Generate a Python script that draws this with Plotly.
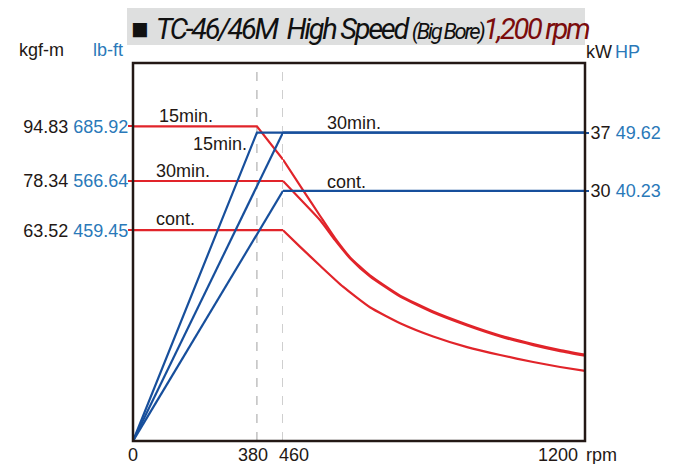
import plotly.graph_objects as go

# ---------------- data ----------------
SPLIT_RPM = 460          # axis scale changes here (two-segment rpm axis)
RPM_MAX = 1200

# torque (kgf-m) curves
t15_rpm = [0, 380, 460, 509, 551, 587, 624, 673, 747, 828, 911, 992, 1073, 1139, 1200]
t15_val = [94.83, 94.83, 84.8, 75.6, 67.8, 61.2, 55.4, 49.9, 43.8, 39.0, 35.1, 31.8, 29.2, 27.4, 26.0]
t30_rpm = [0, 460, 509, 551, 587, 624, 673, 747, 828, 911, 992, 1073, 1139, 1200]
t30_val = [78.34, 78.34, 72.0, 66.5, 60.6, 55.1, 49.6, 43.5, 38.7, 34.8, 31.5, 28.9, 27.1, 25.7]
tc_rpm = [0, 460, 502, 551, 607, 673, 747, 828, 911, 992, 1073, 1139, 1200]
tc_val = [63.52, 63.52, 58.5, 52.8, 46.5, 40.3, 35.5, 31.5, 28.3, 25.9, 23.8, 22.3, 21.1]

# power (kW) curves
p15_rpm = [0, 380, 1200]
p15_val = [0, 37, 37]
p30_rpm = [0, 460, 1200]
p30_val = [0, 37, 37]
pc_rpm = [0, 460, 1200]
pc_val = [0, 30, 30]

torque_kgfm = [94.83, 78.34, 63.52]
torque_lbft = ["685.92", "566.64", "459.45"]
power_kw = [37, 30]
power_hp = ["49.62", "40.23"]
x_ticks = [0, 380, 460, 1200]
dash_rpm = [380, 460]

# ---------------- style ----------------
RED = "#e1242a"
BLUE = "#174f9c"
TXT = "#231815"
TXTBLUE = "#2a79b9"
FONT = "Liberation Sans, Arial, sans-serif"

fig = go.Figure()


def add_split(rpm, val, color, yaxis, smooth_hi=False):
    """Draw a curve across the two rpm axis segments (x: 0-460, x2: 460-1200)."""
    lo = [(r, v) for r, v in zip(rpm, val) if r <= SPLIT_RPM]
    hi = [(r, v) for r, v in zip(rpm, val) if r >= SPLIT_RPM]
    if lo and lo[-1][0] < SPLIT_RPM and hi:
        r0, v0 = lo[-1]
        r1, v1 = hi[0]
        vb = v0 + (v1 - v0) * (SPLIT_RPM - r0) / (r1 - r0)
        lo.append((SPLIT_RPM, vb))
        hi.insert(0, (SPLIT_RPM, vb))
    for pts, xa, sm in ((lo, "x", False), (hi, "x2", smooth_hi)):
        if len(pts) < 2:
            continue
        line = dict(color=color, width=2.2)
        if sm:
            line.update(shape="spline", smoothing=0.5)
        fig.add_trace(go.Scatter(
            x=[p[0] for p in pts], y=[p[1] for p in pts],
            mode="lines", line=line,
            xaxis=xa, yaxis=yaxis, showlegend=False, hoverinfo="skip",
        ))


add_split(p15_rpm, p15_val, BLUE, "y2")
add_split(p30_rpm, p30_val, BLUE, "y2")
add_split(pc_rpm, pc_val, BLUE, "y2")
add_split(t15_rpm, t15_val, RED, "y", smooth_hi=True)
add_split(t30_rpm, t30_val, RED, "y", smooth_hi=True)
add_split(tc_rpm, tc_val, RED, "y", smooth_hi=True)

DOM_SPLIT = 150 / 452

shapes = []
for r in dash_rpm:
    shapes.append(dict(type="line", xref="x", yref="paper", x0=r, x1=r, y0=0, y1=1,
                       line=dict(color="#b0b0b0", width=1.2, dash="dash"), layer="below"))
# title box
shapes.append(dict(type="rect", xref="paper", yref="paper", x0=-0.0133, x1=1.0,
                   y0=1.0476, y1=1.1455, fillcolor="#dedfdf", line=dict(width=0), layer="below"))
# plot frame
shapes.append(dict(type="rect", xref="paper", yref="paper", x0=0, x1=1, y0=0, y1=1,
                   line=dict(color=TXT, width=2.5), layer="above"))

ann = []
# title
ann.append(dict(
    xref="paper", yref="paper", x=0.503, y=1.09, xanchor="center", yanchor="middle",
    showarrow=False,
    text=("<span style='font-style:normal'>■</span> <i><span style='letter-spacing:-2.3px'>TC-46/46M  High Speed "
          "<span style='font-size:22px'>(Big Bore)</span>"
          "<span style='color:#7b0c0c'>1,200 rpm</span></span></i>"),
    font=dict(family="Roboto, Liberation Sans", size=29, color="#111111"),
))
# axis unit labels
ann += [
    dict(xref="paper", yref="paper", x=-0.203, y=1.034, text="kgf-m", showarrow=False,
         xanchor="center", yanchor="middle", font=dict(family=FONT, size=18, color=TXT)),
    dict(xref="paper", yref="paper", x=-0.056, y=1.034, text="lb-ft", showarrow=False,
         xanchor="center", yanchor="middle", font=dict(family=FONT, size=18, color=TXTBLUE)),
    dict(xref="paper", yref="paper", x=1.0, y=1.029, text="kW", showarrow=False, xshift=-1,
         xanchor="left", yanchor="middle", font=dict(family=FONT, size=18, color=TXT)),
    dict(xref="paper", yref="paper", x=1.0, y=1.029, text="HP", showarrow=False, xshift=28,
         xanchor="left", yanchor="middle", font=dict(family=FONT, size=18, color=TXTBLUE)),
]
# x tick labels
xshift = {0: 0, 380: -4, 460: 11, 1200: -27}
for r in x_ticks:
    ann.append(dict(xref="x" if r <= SPLIT_RPM else "x2", yref="paper", x=r, y=0,
                    yshift=-14, xshift=xshift[r], text=str(r), showarrow=False,
                    xanchor="center", yanchor="middle",
                    font=dict(family=FONT, size=18, color=TXT)))
ann.append(dict(xref="paper", yref="paper", x=1.0, y=0, yshift=-14, xshift=-1, text="rpm",
                showarrow=False, xanchor="left", yanchor="middle",
                font=dict(family=FONT, size=18, color=TXT)))
# curve labels
lab_font = dict(family=FONT, size=18, color=TXT)
ann += [
    dict(xref="x", yref="y", x=74, y=t15_val[0], yshift=10, text="15min.", showarrow=False,
         xanchor="left", yanchor="middle", font=lab_font),
    dict(xref="x", yref="y", x=65, y=t30_val[0], yshift=10, text="30min.", showarrow=False,
         xanchor="left", yanchor="middle", font=lab_font),
    dict(xref="x", yref="y", x=65, y=tc_val[0], yshift=11, text="cont.", showarrow=False,
         xanchor="left", yanchor="middle", font=lab_font),
    dict(xref="x", yref="y2", x=177, y=p15_val[-1], yshift=-11, text="15min.", showarrow=False,
         xanchor="left", yanchor="middle", font=lab_font),
    dict(xref="x2", yref="y2", x=562, y=p30_val[-1], yshift=9.5, text="30min.", showarrow=False,
         xanchor="left", yanchor="middle", font=lab_font),
    dict(xref="x2", yref="y2", x=562, y=pc_val[-1], yshift=8.5, text="cont.", showarrow=False,
         xanchor="left", yanchor="middle", font=lab_font),
]

fig.update_layout(
    width=680, height=456,
    margin=dict(l=125, r=103, t=55, b=23),
    paper_bgcolor="white", plot_bgcolor="white",
    showlegend=False,
    xaxis=dict(domain=[0, DOM_SPLIT], range=[0, SPLIT_RPM], showgrid=False, zeroline=False,
               showticklabels=False, ticks="", anchor="y"),
    xaxis2=dict(domain=[DOM_SPLIT, 1], range=[SPLIT_RPM, RPM_MAX], showgrid=False, zeroline=False,
                showticklabels=False, ticks="", anchor="y"),
    yaxis=dict(range=[0, 113.9], showgrid=False, zeroline=False, anchor="x",
               tickvals=torque_kgfm,
               ticktext=[f"{k:.2f} <span style='color:{TXTBLUE}'>{l}</span>"
                         for k, l in zip(torque_kgfm, torque_lbft)],
               ticks="outside", ticklen=4, tickwidth=2, tickcolor=RED,
               ticklabelstandoff=-4,
               tickfont=dict(family=FONT, size=18, color=TXT)),
    yaxis2=dict(range=[0, 45.35], showgrid=False, zeroline=False, overlaying="y",
                side="right", anchor="free", position=1,
                tickvals=power_kw,
                ticktext=[f"{k} <span style='color:{TXTBLUE}'>{h}</span>"
                          for k, h in zip(power_kw, power_hp)],
                ticks="outside", ticklen=3, tickwidth=2, tickcolor=BLUE,
                ticklabelstandoff=-2,
                tickfont=dict(family=FONT, size=18, color=TXT)),
    shapes=shapes,
    annotations=ann,
)

fig.write_html("out.html")
